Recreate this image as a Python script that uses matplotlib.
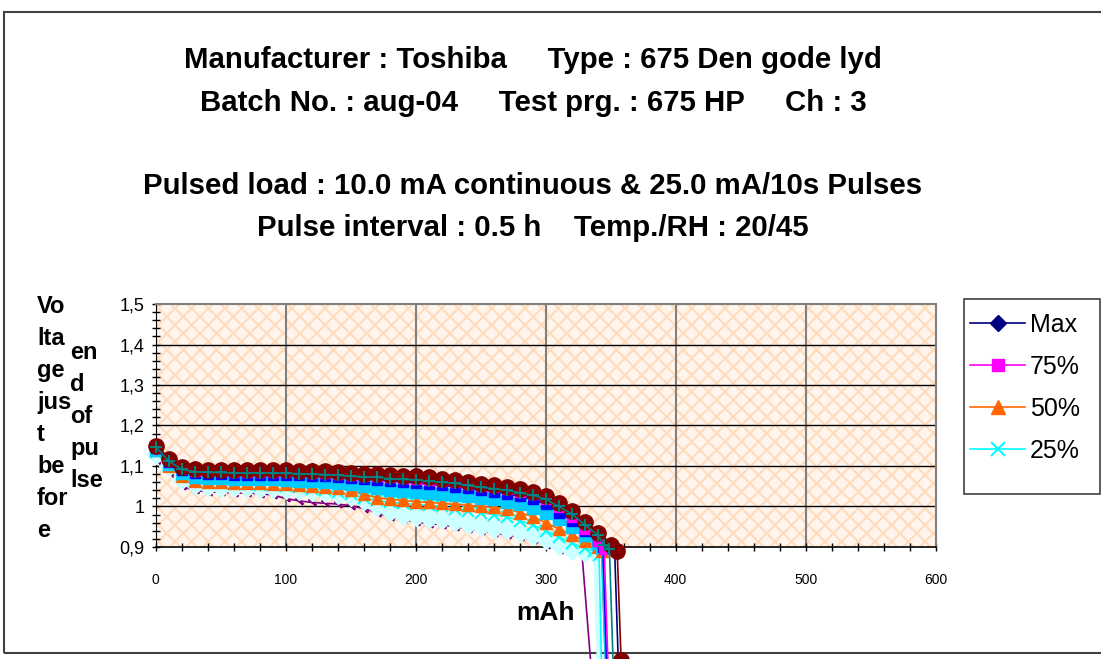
import matplotlib
matplotlib.use('Agg')
import matplotlib.pyplot as plt
from matplotlib.patches import Rectangle
from matplotlib.ticker import MultipleLocator

plt.rcParams['font.family'] = ['Liberation Sans', 'DejaVu Sans']
plt.rcParams['hatch.linewidth'] = 1.6

# capacity points (mAh) where the end-of-pulse voltage was logged
cap = [0, 10, 20, 30, 40, 50, 60, 70, 80, 90, 100, 110, 120, 130, 140, 150, 160, 170,
       180, 190, 200, 210, 220, 230, 240, 250, 260, 270, 280, 290, 300, 310, 320, 330,
       340, 350]

# series (V); the legend only names the first four
v_max = [1.152, 1.120, 1.100, 1.094, 1.093, 1.092, 1.092, 1.092, 1.092, 1.092, 1.093, 1.090,
         1.092, 1.088, 1.086, 1.084, 1.083, 1.081, 1.078, 1.076, 1.078, 1.073, 1.069, 1.066,
         1.061, 1.057, 1.053, 1.049, 1.043, 1.037, 1.027, 1.010, 0.992, 0.965, 0.937, 0.908]
v_75 = [1.152, 1.115, 1.095, 1.088, 1.087, 1.087, 1.086, 1.086, 1.085, 1.085, 1.085, 1.084,
        1.083, 1.082, 1.080, 1.078, 1.076, 1.075, 1.072, 1.070, 1.069, 1.066, 1.063, 1.060,
        1.055, 1.051, 1.047, 1.043, 1.037, 1.030, 1.018, 0.998, 0.975, 0.945, 0.915]
v_50 = [1.140, 1.100, 1.075, 1.062, 1.060, 1.060, 1.058, 1.058, 1.057, 1.056, 1.055, 1.052,
        1.050, 1.048, 1.045, 1.040, 1.030, 1.022, 1.018, 1.015, 1.012, 1.010, 1.008, 1.005,
        1.003, 1.000, 0.998, 0.995, 0.985, 0.975, 0.960, 0.945, 0.930, 0.915, 0.900]
v_25 = [1.135, 1.100, 1.075, 1.062, 1.058, 1.057, 1.056, 1.055, 1.054, 1.053, 1.050, 1.047,
        1.044, 1.040, 1.036, 1.030, 1.022, 1.015, 1.010, 1.008, 1.005, 1.003, 1.000, 0.995,
        0.990, 0.985, 0.980, 0.975, 0.965, 0.955, 0.940, 0.925, 0.910, 0.897]
v_s5 = [1.115, 1.085, 1.050, 1.040, 1.036, 1.035, 1.034, 1.033, 1.032, 1.028, 1.020, 1.014,
        1.010, 1.008, 1.006, 1.002, 0.995, 0.985, 0.975, 0.968, 0.962, 0.958, 0.955, 0.950,
        0.945, 0.940, 0.935, 0.930, 0.925, 0.918, 0.906, 0.893, 0.884]
v_s6 = [1.150, 1.118, 1.098, 1.092, 1.090, 1.090, 1.090, 1.090, 1.090, 1.090, 1.090, 1.088,
        1.088, 1.087, 1.085, 1.083, 1.081, 1.080, 1.077, 1.075, 1.075, 1.072, 1.068, 1.065,
        1.060, 1.056, 1.052, 1.048, 1.042, 1.036, 1.026, 1.008, 0.990, 0.962, 0.935, 0.905]
v_s7 = [1.148, 1.112, 1.092, 1.086, 1.084, 1.084, 1.083, 1.083, 1.083, 1.082, 1.082, 1.081,
        1.080, 1.079, 1.077, 1.075, 1.073, 1.072, 1.069, 1.067, 1.066, 1.063, 1.060, 1.057,
        1.052, 1.048, 1.044, 1.040, 1.034, 1.028, 1.018, 1.000, 0.982, 0.955, 0.930]
v_s8 = [1.145, 1.110, 1.090, 1.082, 1.080, 1.080, 1.079, 1.079, 1.078, 1.078, 1.078, 1.077,
        1.076, 1.075, 1.073, 1.071, 1.068, 1.066, 1.063, 1.060, 1.058, 1.055, 1.052, 1.049,
        1.045, 1.041, 1.037, 1.032, 1.025, 1.018, 1.005, 0.985, 0.965, 0.940, 0.915]
v_s9 = [1.140, 1.105, 1.082, 1.072, 1.070, 1.070, 1.069, 1.069, 1.068, 1.068, 1.066, 1.064,
        1.062, 1.060, 1.058, 1.055, 1.050, 1.045, 1.040, 1.038, 1.036, 1.034, 1.031, 1.028,
        1.025, 1.022, 1.018, 1.012, 1.005, 0.997, 0.985, 0.968, 0.950, 0.930, 0.910]
v_s10 = [1.130, 1.100, 1.068, 1.055, 1.050, 1.049, 1.048, 1.047, 1.046, 1.045, 1.042, 1.040,
         1.038, 1.035, 1.032, 1.027, 1.015, 1.000, 0.988, 0.980, 0.976, 0.972, 0.968, 0.964,
         0.958, 0.952, 0.948, 0.944, 0.938, 0.930, 0.920, 0.905, 0.893, 0.887]

# end of discharge: last points and the collapse below the axis
tail_max = ([353, 356, 359], [0.895, 0.60, 0.20])
tail_75 = ([345, 348, 351], [0.895, 0.60, 0.20])
tail_50 = ([343, 346, 349], [0.890, 0.60, 0.20])
tail_25 = ([337, 341, 343, 346], [0.890, 0.880, 0.60, 0.20])
tail_s5 = ([328, 335, 338], [0.880, 0.60, 0.20])
tail_s6 = ([355, 358, 361], [0.890, 0.62, 0.20])
tail_s7 = ([345, 349, 352, 355], [0.905, 0.895, 0.60, 0.20])
tail_s8 = ([344, 347, 350], [0.900, 0.60, 0.20])
tail_s9 = ([343, 346, 349], [0.900, 0.60, 0.20])
tail_s10 = ([338, 341, 344], [0.885, 0.60, 0.20])

legend_labels = ['Max', '75%', '50%', '25%']
title_lines = ['Manufacturer : Toshiba     Type : 675 Den gode lyd',
               'Batch No. : aug-04     Test prg. : 675 HP     Ch : 3',
               'Pulsed load : 10.0 mA continuous & 25.0 mA/10s Pulses',
               'Pulse interval : 0.5 h    Temp./RH : 20/45']
ylab_1 = 'Vo\nlta\nge\njus\nt\nbe\nfor\ne'
ylab_2 = 'en\nd\nof\npu\nlse'
xticks = [0, 100, 200, 300, 400, 500, 600]
yticks = [0.9, 1.0, 1.1, 1.2, 1.3, 1.4, 1.5]
ytick_labels = ['0,9', '1', '1,1', '1,2', '1,3', '1,4', '1,5']

W, H = 1101, 659
fig = plt.figure(figsize=(W / 100, H / 100), dpi=100)
ax = fig.add_axes([155.7 / W, 1 - 547 / H, 780 / W, 243 / H])

# patterned plot area
ax.set_facecolor('white')
ax.add_patch(Rectangle((0, 0), 1, 1, transform=ax.transAxes, facecolor='#FFF5EC',
                       edgecolor='#FFDCBD', hatch='xx', lw=0, zorder=0))

# drawing order and look of every series
series = [
    (v_s5, tail_s5, dict(color='#800080', marker=(2, 2, 50), ms=7, mew=1.5)),
    (v_s10, tail_s10, dict(color='#CCFFFF', marker='D', ms=10, mec='#CCFFFF', lw=3)),
    (v_25, tail_25, dict(color='#00FFFF', marker='x', ms=8, mew=1.5)),
    (v_50, tail_50, dict(color='#FF6600', marker='^', ms=8)),
    (v_s9, tail_s9, dict(color='#00CCFF', marker='s', ms=9)),
    (v_s8, tail_s8, dict(color='#0000FF', marker='s', ms=7)),
    (v_max, tail_max, dict(color='#000080', marker='D', ms=6)),
    (v_75, tail_75, dict(color='#FF00FF', marker='s', ms=7)),
    (v_s6, tail_s6, dict(color='#800000', marker='o', ms=11)),
    (v_s7, tail_s7, dict(color='#008080', marker='+', ms=9, mew=1.5)),
]
for vals, tail, st in series:
    xs = cap[:len(vals)] + tail[0]
    ys = vals + tail[1]
    st.setdefault('lw', 1.2)
    ax.plot(xs, ys, clip_on=False, zorder=3, **st)

ax.set_xlim(0, 600)
ax.set_ylim(0.9, 1.5)
ax.set_xticks(xticks)
ax.set_xticklabels([str(t) for t in xticks], fontsize=10)
ax.set_yticks(yticks)
ax.set_yticklabels(ytick_labels, fontsize=13)
ax.xaxis.set_minor_locator(MultipleLocator(20))
ax.yaxis.set_minor_locator(MultipleLocator(0.02))
ax.tick_params(axis='both', which='both', direction='inout', length=6, width=1, color='black')
ax.tick_params(axis='x', which='both', pad=16)
ax.tick_params(axis='y', which='both', pad=5)

for v in xticks[1:-1]:
    ax.axvline(v, color='#808080', lw=1.5, zorder=1)
for v in yticks[1:-1]:
    ax.axhline(v, color='black', lw=1, zorder=1)
ax.spines['left'].set_color('black')
ax.spines['bottom'].set_color('black')
ax.spines['bottom'].set_linewidth(1.2)
ax.spines['top'].set_color('#808080')
ax.spines['top'].set_linewidth(1.5)
ax.spines['right'].set_color('#808080')
ax.spines['right'].set_linewidth(1.5)

ax.set_xlabel('mAh', fontsize=19, fontweight='bold', labelpad=10)

# titles
for txt, ypix in zip(title_lines, [60, 103, 186, 228]):
    fig.text(533 / W, 1 - ypix / H, txt, ha='center', va='center', fontsize=21.2,
             fontweight='bold')

# wrapped axis title in two columns
fig.text(37 / W, 1 - 295 / H, ylab_1, ha='left', va='top', fontsize=17, fontweight='bold',
         linespacing=1.5)
fig.text(70 / W, 1 - 341 / H, ylab_2, ha='left', va='top', fontsize=17, fontweight='bold',
         linespacing=1.5)

# legend
leg_styles = [dict(color='#000080', marker='D', ms=8),
              dict(color='#FF00FF', marker='s', ms=9),
              dict(color='#FF6600', marker='^', ms=10),
              dict(color='#00FFFF', marker='x', ms=10, mew=1.5)]
proxies = [plt.Line2D([], [], lw=1.2, **st) for st in leg_styles]
fig.legend(proxies, legend_labels, loc='upper left', bbox_to_anchor=(970 / W, 1 - 313 / H),
           frameon=False, fontsize=18, handlelength=2.2, handletextpad=0.2,
           labelspacing=0.72, borderpad=0, borderaxespad=0)
fig.patches.append(Rectangle((964 / W, 1 - 494 / H), 136 / W, 195 / H, transform=fig.transFigure,
                             fill=False, edgecolor='#404040', lw=1.2))

# outer chart border
fig.patches.append(Rectangle((4 / W, 1 - 653 / H), 1.2, 641 / H, transform=fig.transFigure,
                             fill=False, edgecolor='#404040', lw=1.5, zorder=-1))

fig.savefig('out.png', dpi=100)
